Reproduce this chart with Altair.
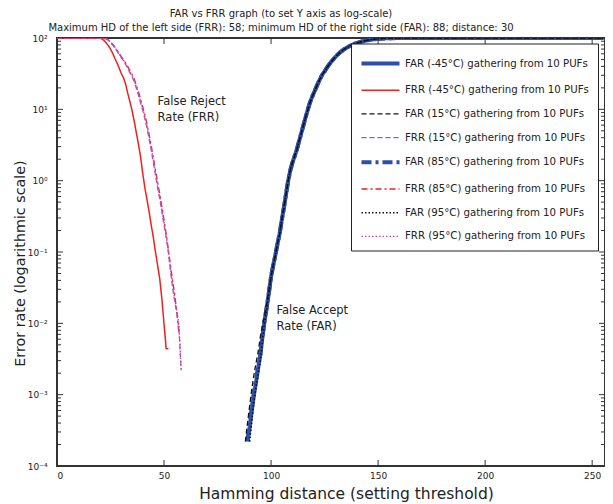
import altair as alt
import pandas as pd

SERIES = [
    "FAR (-45°C) gathering from 10 PUFs",
    "FRR (-45°C) gathering from 10 PUFs",
    "FAR (15°C) gathering from 10 PUFs",
    "FRR (15°C) gathering from 10 PUFs",
    "FAR (85°C) gathering from 10 PUFs",
    "FRR (85°C) gathering from 10 PUFs",
    "FAR (95°C) gathering from 10 PUFs",
    "FRR (95°C) gathering from 10 PUFs",
]
COLORS = ["#2d4fa8", "#ee2020", "#111111", "#c04cb0", "#2d4fa8", "#ee2020", "#111111", "#c04cb0"]
DASHES = [[1, 0], [1, 0], [5, 3], [5, 3], [10, 4, 3, 4], [6, 3, 2, 3], [1.5, 2], [1.5, 2]]
WIDTHS = [4.0, 1.5, 1.3, 1.3, 4.0, 1.3, 1.6, 1.4]

# ---- FRR curves (left side) ----
FRR_M45_HD = [0, 19] + list(range(20, 53))
FRR_M45 = [100, 100,
           99, 97, 92, 85, 78, 70, 61, 52, 45, 38,
           32, 28, 23, 17, 13, 9.8, 7, 4.8, 3.3, 2.2,
           1.3, 0.81, 0.55, 0.37, 0.24, 0.16, 0.1, 0.065, 0.042, 0.022,
           0.0098, 0.0044, 0.0044]

FRR_15_HD = [0, 21] + list(range(22, 59))
FRR_15 = [100, 100,
          99, 97, 93, 87, 80, 73, 66, 59, 53, 48,
          43, 38, 33, 29, 25, 20, 16, 12.5, 9.8, 7.5,
          5.5, 3.9, 2.7, 1.8, 1.2, 0.8, 0.55, 0.37, 0.24, 0.16,
          0.1, 0.055, 0.032, 0.02, 0.014, 0.008, 0.0022]

FRR_85_HD = [0, 21] + list(range(22, 58))
FRR_85 = [100, 100,
          99, 97.5, 94, 88, 82, 75, 68, 61, 55, 50,
          45, 40, 35, 31, 27, 22, 18, 14, 11, 8.5,
          6.3, 4.5, 3.1, 2.1, 1.4, 0.95, 0.65, 0.43, 0.28, 0.18,
          0.11, 0.065, 0.04, 0.025, 0.014, 0.0068]

FRR_95_HD = [0, 21] + list(range(22, 59))
FRR_95 = [100, 100,
          99, 97, 93.5, 87.5, 81, 74, 67, 60, 54, 49,
          44, 39, 34, 30, 26, 21, 17, 13, 10.3, 8,
          5.9, 4.2, 2.9, 1.95, 1.3, 0.87, 0.6, 0.4, 0.26, 0.17,
          0.105, 0.06, 0.035, 0.022, 0.015, 0.009, 0.0023]

# ---- FAR curves (right side) ----
FAR_TAIL_HD = list(range(100, 141)) + [142, 144, 146, 148, 150, 153, 156, 160, 165, 256]
FAR_TAIL = [0.045, 0.065, 0.09, 0.13, 0.18, 0.28, 0.42, 0.65, 1.0, 1.4,
            1.8, 2.2, 2.7, 3.5, 4.5, 5.8, 7.5, 9.5, 12, 14.5,
            17, 20, 23.5, 27, 31, 34, 38, 42, 46, 50,
            54, 58, 62, 65.5, 69, 72, 75, 78, 80.5, 83,
            85, 88.5, 91.5, 94, 96, 97.4, 98.7, 99.4, 99.8, 100, 100]

FAR_M45_HD = list(range(89, 100))
FAR_M45 = [0.00022, 0.00035, 0.0006, 0.001, 0.0015, 0.0024, 0.0036, 0.0065, 0.011, 0.017, 0.027]
FAR_15_HD = list(range(88, 100))
FAR_15 = [0.00022, 0.0004, 0.0007, 0.0012, 0.0019, 0.0028, 0.004, 0.0065, 0.0095, 0.013, 0.019, 0.029]
FAR_85_HD = list(range(89, 100))
FAR_85 = [0.00023, 0.0004, 0.00065, 0.0011, 0.0016, 0.0025, 0.0037, 0.0066, 0.011, 0.017, 0.027]
FAR_95_HD = list(range(90, 100))
FAR_95 = [0.00022, 0.00042, 0.0008, 0.0013, 0.002, 0.003, 0.0058, 0.0102, 0.016, 0.026]

X_TICKS = [0, 50, 100, 150, 200, 250]
Y_MAJOR = [1e-4, 1e-3, 1e-2, 1e-1, 1, 10, 100]
Y_MINOR = [m * 10.0 ** k for k in range(-4, 2) for m in range(2, 10)]

ANNOT_HD = [47, 102.5]
ANNOT_VAL = [15.5, 0.018]
ANNOT_TXT = ["False Reject\nRate (FRR)", "False Accept\nRate (FAR)"]

# ---- build tables ----
curves = [
    (SERIES[0], FAR_M45_HD + FAR_TAIL_HD, FAR_M45 + FAR_TAIL),
    (SERIES[4], FAR_85_HD + FAR_TAIL_HD, FAR_85 + FAR_TAIL),
    (SERIES[1], FRR_M45_HD, FRR_M45),
    (SERIES[5], FRR_85_HD, FRR_85),
    (SERIES[2], FAR_15_HD + FAR_TAIL_HD, FAR_15 + FAR_TAIL),
    (SERIES[3], FRR_15_HD, FRR_15),
    (SERIES[6], FAR_95_HD + FAR_TAIL_HD, FAR_95 + FAR_TAIL),
    (SERIES[7], FRR_95_HD, FRR_95),
]
rows = []
for gi, (name, hds, vals) in enumerate(curves):
    for i, (h, v) in enumerate(zip(hds, vals)):
        rows.append({"series": name, "hd": h, "value": v, "idx": i, "grp": gi})
df = pd.DataFrame(rows)

W, H = 548, 428
FONT = "DejaVu Sans"
TXT = "#222"

x_enc = alt.X("hd:Q", scale=alt.Scale(domain=[0, 256], nice=False, zero=False),
              axis=alt.Axis(values=X_TICKS, title="Hamming distance (setting threshold)",
                            ticks=False, domain=False, grid=False, labelPadding=5,
                            labelFontSize=9, titleFontSize=15.5, titleX=289, titleY=27,
                            titleBaseline="middle",
                            titleFontWeight="normal", labelColor=TXT, titleColor=TXT))
y_enc = alt.Y("value:Q", scale=alt.Scale(type="log", domain=[1e-4, 100], nice=False),
              axis=alt.Axis(values=Y_MAJOR, title="Error rate (logarithmic scale)",
                            labelExpr="'10' + ['⁻⁴','⁻³','⁻²','⁻¹','⁰','¹','²'][round(log(datum.value)/LN10)+4]",
                            ticks=False, domain=False, grid=False, labelPadding=10,
                            labelFontSize=9, titleFontSize=14.3, titleX=-37, titleY=225,
                            titleBaseline="middle",
                            titleFontWeight="normal", labelColor=TXT, titleColor=TXT))

lines = alt.Chart(df).mark_line(clip=True).encode(
    x=x_enc, y=y_enc,
    color=alt.Color("series:N", scale=alt.Scale(domain=SERIES, range=COLORS),
                    legend=alt.Legend(title=None)),
    strokeDash=alt.StrokeDash("series:N", scale=alt.Scale(domain=SERIES, range=DASHES),
                              legend=alt.Legend(title=None)),
    strokeWidth=alt.StrokeWidth("series:N", scale=alt.Scale(type="ordinal", domain=SERIES, range=WIDTHS),
                                legend=alt.Legend(title=None)),
    order="idx:Q",
    detail="grp:N",
)

xt = pd.DataFrame({"hd": X_TICKS[1:]})
ymaj = pd.DataFrame({"value": Y_MAJOR[1:-1]})
ymin = pd.DataFrame({"value": Y_MINOR})
tick_color = "#333"

xb = alt.Chart(xt).mark_rule(color=tick_color, strokeWidth=1).encode(x=x_enc, y=alt.value(H), y2=alt.value(H - 6))
xtop = alt.Chart(xt).mark_rule(color=tick_color, strokeWidth=1).encode(x=x_enc, y=alt.value(0), y2=alt.value(6))
yl_maj = alt.Chart(ymaj).mark_rule(color=tick_color, strokeWidth=1).encode(y=y_enc, x=alt.value(0), x2=alt.value(6))
yr_maj = alt.Chart(ymaj).mark_rule(color=tick_color, strokeWidth=1).encode(y=y_enc, x=alt.value(W), x2=alt.value(W - 6))
yl_min = alt.Chart(ymin).mark_rule(color=tick_color, strokeWidth=1).encode(y=y_enc, x=alt.value(0), x2=alt.value(4))
yr_min = alt.Chart(ymin).mark_rule(color=tick_color, strokeWidth=1).encode(y=y_enc, x=alt.value(W), x2=alt.value(W - 4))

annot = alt.Chart(pd.DataFrame({"hd": ANNOT_HD, "value": ANNOT_VAL, "label": ANNOT_TXT})).mark_text(
    align="left", baseline="top", fontSize=11.5, lineBreak="\n", lineHeight=16, color=TXT, font=FONT
).encode(x=x_enc, y=y_enc, text="label:N")

chart = alt.layer(yl_min, yr_min, yl_maj, yr_maj, xb, xtop, lines, annot).properties(
    width=W, height=H,
    autosize=alt.AutoSizeParams(type="none"),
    padding={"left": 49, "top": 30, "right": 0, "bottom": 38},
    title=alt.Title(
        "FAR vs FRR graph (to set Y axis as log-scale)",
        subtitle="Maximum HD of the left side (FRR): 58; minimum HD of the right side (FAR): 88; distance: 30",
        anchor="middle", frame="group", dx=-50, dy=4, fontSize=10, subtitleFontSize=10, fontWeight="normal",
        color=TXT, subtitleColor=TXT, offset=5, subtitlePadding=4, font=FONT, subtitleFont=FONT,
    ),
).configure_view(stroke="#333", strokeWidth=2).configure_axis(
    labelFont=FONT, titleFont=FONT
).configure_legend(
    orient="none", legendX=294, legendY=5.5,
    strokeColor="#222", fillColor="white", padding=8.5,
    symbolType="M-2,0H2", symbolSize=361, symbolOffset=9.5, labelFontSize=10.2, labelFont=FONT,
    labelColor=TXT, rowPadding=7.7, labelOffset=13, labelLimit=300,
)

chart.save("out.html", embed_options={"renderer": "svg", "actions": False})
